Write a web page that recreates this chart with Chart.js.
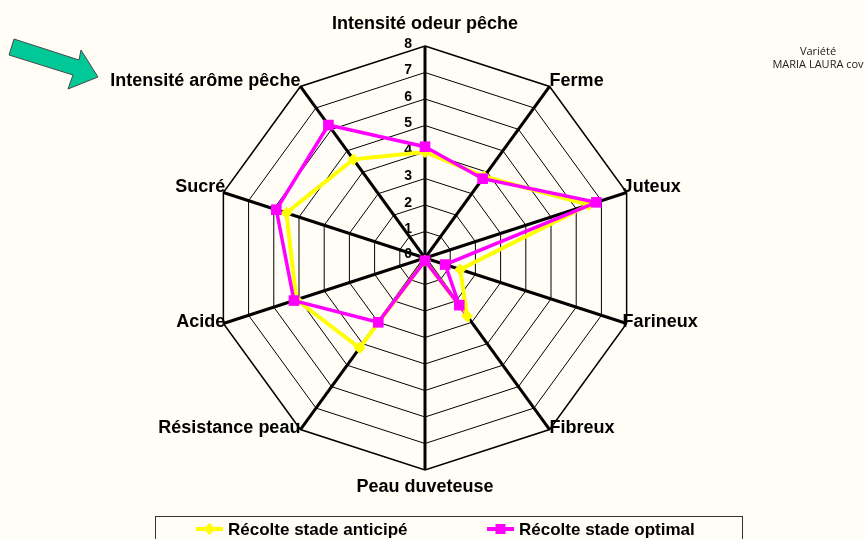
<!DOCTYPE html>
<html>
<head>
<meta charset="utf-8">
<script src="https://cdn.jsdelivr.net/npm/chart.js@4.4.0/dist/chart.umd.min.js"></script>
<style>
  html, body { margin: 0; padding: 0; background: #fffdf5; }
</style>
</head>
<body>
<canvas id="myChart" width="865" height="539"></canvas>
<script>
const AnticipeColor = "#FFFF00";
const OptimalColor = "#FF00FF";
const FONT = '"Liberation Sans", Arial, sans-serif';

// axes, clockwise from the top
const labels = [
  "Intensité odeur pêche",
  "Ferme",
  "Juteux",
  "Farineux",
  "Fibreux",
  "Peau duveteuse",
  "Résistance peau",
  "Acide",
  "Sucré",
  "Intensité arôme pêche",
];
const anticipe = [4.0, 3.8, 6.5, 1.4, 2.7, 0.1, 4.2, 5.1, 5.5, 4.6];
const optimal = [4.2, 3.7, 6.8, 0.8, 2.2, 0.1, 3.0, 5.2, 5.9, 6.2];
const tickValues = [0, 1, 2, 3, 4, 5, 6, 7, 8];
const seriesNames = ["Récolte stade anticipé", "Récolte stade optimal"];

const decor = {
  id: "decor",
  beforeDraw(chart) {
    const ctx = chart.ctx;
    ctx.save();
    ctx.fillStyle = "#fffdf5";
    ctx.fillRect(0, 0, chart.width, chart.height);

    // green arrow
    ctx.beginPath();
    ctx.moveTo(14, 39);
    ctx.lineTo(79, 60);
    ctx.lineTo(81, 50);
    ctx.lineTo(98, 77);
    ctx.lineTo(68, 89);
    ctx.lineTo(73, 75);
    ctx.lineTo(9, 55);
    ctx.closePath();
    ctx.fillStyle = "#00C896";
    ctx.fill();
    ctx.strokeStyle = "#4a4a4a";
    ctx.lineWidth = 1;
    ctx.stroke();

    // variety note
    ctx.fillStyle = "#222";
    ctx.font = '11px "Open Sans", sans-serif';
    ctx.textAlign = "center";
    ctx.textBaseline = "middle";
    ctx.fillText("Variété", 818, 52);
    ctx.fillText("MARIA LAURA cov", 818, 65);
    ctx.restore();
  },
  beforeDatasetsDraw(chart) {
    const ctx = chart.ctx;
    const scale = chart.scales.r;
    ctx.save();
    ctx.fillStyle = "#000";

    // tick numbers beside the top axis
    ctx.font = "bold 14px " + FONT;
    ctx.textAlign = "right";
    ctx.textBaseline = "middle";
    tickValues.forEach((v) => {
      const d = scale.getDistanceFromCenterForValue(v);
      ctx.fillText(String(v), scale.xCenter - 13, scale.yCenter - d - (v === 0 ? 4 : 2));
    });

    // axis names
    ctx.font = "bold 18px " + FONT;
    labels.forEach((lab, i) => {
      const p = scale.getPointPosition(i, scale.drawingArea);
      const dx = p.x - scale.xCenter;
      const up = p.y < scale.yCenter;
      let x = p.x;
      let y = p.y;
      if (Math.abs(dx) < 1) {
        ctx.textAlign = "center";
        y += up ? -22 : 17;
      } else {
        ctx.textAlign = dx > 0 ? "left" : "right";
        if (Math.abs(dx) > 150) x += dx > 0 ? -4 : 2;
        y += up ? -5 : -1;
      }
      ctx.textBaseline = "middle";
      ctx.fillText(lab, x, y);
    });
    ctx.restore();
  },
  afterDraw(chart) {
    const ctx = chart.ctx;
    ctx.save();
    ctx.strokeStyle = "#333";
    ctx.lineWidth = 1;
    ctx.strokeRect(155.5, 516.5, 587, 40);

    const y = 529;
    // anticipé
    ctx.strokeStyle = AnticipeColor;
    ctx.lineWidth = 4;
    ctx.beginPath();
    ctx.moveTo(196, y);
    ctx.lineTo(223, y);
    ctx.stroke();
    ctx.fillStyle = AnticipeColor;
    ctx.beginPath();
    ctx.moveTo(209.5, y - 6);
    ctx.lineTo(215.5, y);
    ctx.lineTo(209.5, y + 6);
    ctx.lineTo(203.5, y);
    ctx.closePath();
    ctx.fill();
    // optimal
    ctx.strokeStyle = OptimalColor;
    ctx.beginPath();
    ctx.moveTo(487, y);
    ctx.lineTo(514, y);
    ctx.stroke();
    ctx.fillStyle = OptimalColor;
    ctx.fillRect(495.5, y - 5, 10, 10);

    ctx.fillStyle = "#000";
    ctx.font = "bold 17px " + FONT;
    ctx.textAlign = "left";
    ctx.textBaseline = "middle";
    ctx.fillText(seriesNames[0], 228, y + 1);
    ctx.fillText(seriesNames[1], 519, y + 1);
    ctx.restore();
  },
};

const ctx = document.getElementById("myChart").getContext("2d");
const myChart = new Chart(ctx, {
  type: "radar",
  data: {
    labels: labels,
    datasets: [
      {
        label: seriesNames[0],
        data: anticipe,
        borderColor: AnticipeColor,
        backgroundColor: AnticipeColor,
        borderWidth: 4,
        fill: false,
        pointStyle: "rectRot",
        pointRadius: 6,
        pointBorderWidth: 0,
        pointBackgroundColor: AnticipeColor,
        order: 2,
      },
      {
        label: seriesNames[1],
        data: optimal,
        borderColor: OptimalColor,
        backgroundColor: OptimalColor,
        borderWidth: 3.5,
        fill: false,
        pointStyle: "rect",
        pointRadius: 7.5,
        pointBorderWidth: 0,
        pointBackgroundColor: OptimalColor,
        order: 1,
      },
    ],
  },
  plugins: [decor],
  options: {
    responsive: false,
    animation: false,
    layout: {
      padding: { left: 213, right: 228, top: 46, bottom: 69 },
    },
    plugins: {
      legend: { display: false },
      tooltip: { enabled: false },
    },
    elements: {
      line: { tension: 0 },
    },
    scales: {
      r: {
        min: 0,
        max: 8,
        startAngle: 0,
        ticks: { stepSize: 1, display: false },
        pointLabels: { display: false },
        grid: {
          color: "#000",
          lineWidth: (c) => (c.tick && c.tick.value === 8 ? 1.5 : 1),
        },
        angleLines: { color: "#000", lineWidth: 3 },
      },
    },
  },
});
</script>
</body>
</html>
